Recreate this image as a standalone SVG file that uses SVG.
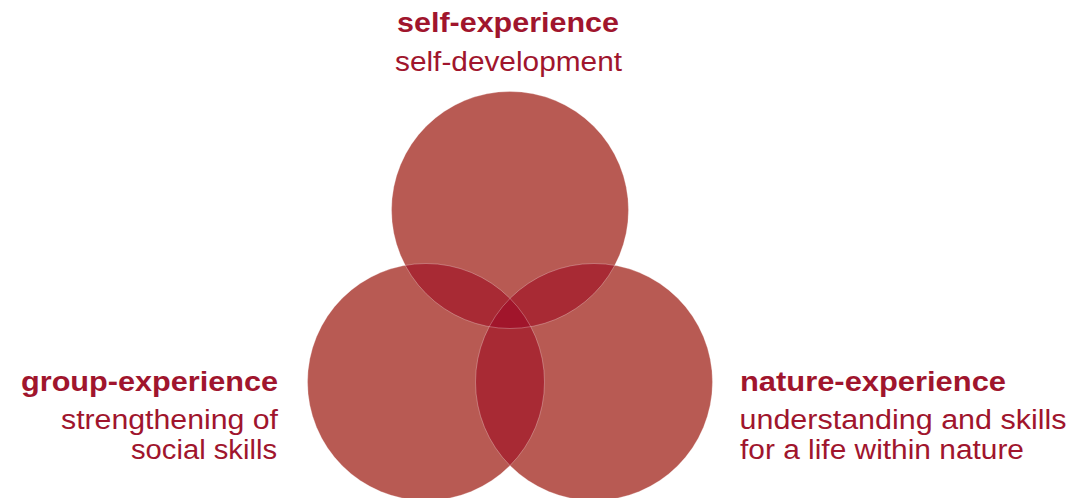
<svg xmlns="http://www.w3.org/2000/svg" width="1078" height="498" viewBox="0 0 1078 498">
<style>
.base{fill:#b85a53}
.two{fill:#a82a34}
.three{fill:#a1152b}
.edge{fill:none;stroke:#ffffff;stroke-opacity:0.35;stroke-width:0.8}
.h{font-family:"Liberation Sans",Arial,sans-serif;font-weight:bold;font-size:27px;fill:#a0152d}
.t{font-family:"Liberation Sans",Arial,sans-serif;font-size:27px;fill:#a0152d}
</style>
<defs>
<clipPath id="cTop"><circle cx="510" cy="210" r="118.5"/></clipPath>
<clipPath id="cLeft"><circle cx="426" cy="382" r="118.5"/></clipPath>
<clipPath id="cRight"><circle cx="594" cy="382" r="118.5"/></clipPath>
</defs>
<rect width="1078" height="498" fill="#ffffff"/>
<g id="self">
<circle class="base" cx="510" cy="210" r="118.5"/>
</g>
<g id="group">
<circle class="base" cx="426" cy="382" r="118.5"/>
</g>
<g id="nature">
<circle class="base" cx="594" cy="382" r="118.5"/>
</g>
<g id="overlaps">
<g clip-path="url(#cTop)"><circle class="two" cx="426" cy="382" r="118.5"/><circle class="two" cx="594" cy="382" r="118.5"/></g>
<g clip-path="url(#cLeft)"><circle class="two" cx="594" cy="382" r="118.5"/></g>
<g clip-path="url(#cTop)"><g clip-path="url(#cLeft)"><circle class="three" cx="594" cy="382" r="118.5"/></g></g>
<circle class="edge" cx="510" cy="210" r="118.5"/>
<circle class="edge" cx="426" cy="382" r="118.5"/>
<circle class="edge" cx="594" cy="382" r="118.5"/>
</g>
<g id="self-label">
<text class="h" x="397" y="32" textLength="222" lengthAdjust="spacingAndGlyphs">self-experience</text>
<text class="t" x="395" y="71" textLength="227" lengthAdjust="spacingAndGlyphs">self-development</text>
</g>
<g id="group-label">
<text class="h" x="21" y="391" textLength="257" lengthAdjust="spacingAndGlyphs">group-experience</text>
<text class="t" x="61" y="429" textLength="217" lengthAdjust="spacingAndGlyphs">strengthening of</text>
<text class="t" x="131" y="459" textLength="146" lengthAdjust="spacingAndGlyphs">social skills</text>
</g>
<g id="nature-label">
<text class="h" x="740" y="391" textLength="266" lengthAdjust="spacingAndGlyphs">nature-experience</text>
<text class="t" x="739.5" y="429" textLength="327" lengthAdjust="spacingAndGlyphs">understanding and skills</text>
<text class="t" x="740" y="459" textLength="284" lengthAdjust="spacingAndGlyphs">for a life within nature</text>
</g>
</svg>
